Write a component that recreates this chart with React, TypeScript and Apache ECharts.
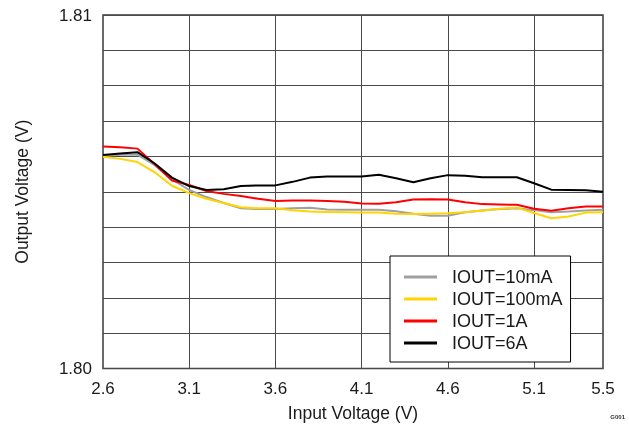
import { useEffect, useRef } from "react";
import * as echarts from "echarts";

const inputVoltage = [2.6, 2.7, 2.8, 2.9, 3.0, 3.1, 3.2, 3.3, 3.4, 3.5, 3.6, 3.7, 3.8, 3.9, 4.0, 4.1, 4.2, 4.3, 4.4, 4.5, 4.6, 4.7, 4.8, 4.9, 5.0, 5.1, 5.2, 5.3, 5.4, 5.5];

const iout10mA = [1.80601, 1.80605, 1.80605, 1.80575, 1.80535, 1.80505, 1.80485, 1.80468, 1.80453, 1.80451, 1.80451, 1.80453, 1.80455, 1.8045, 1.80449, 1.80449, 1.80449, 1.80445, 1.80438, 1.80432, 1.80432, 1.80442, 1.80447, 1.80451, 1.80453, 1.80448, 1.80442, 1.80444, 1.80447, 1.80449];
const iout100mA = [1.80599, 1.80593, 1.80584, 1.80555, 1.80517, 1.80496, 1.8048, 1.80468, 1.80456, 1.80453, 1.80453, 1.80448, 1.80444, 1.80443, 1.80442, 1.80441, 1.80441, 1.80438, 1.80437, 1.80438, 1.80439, 1.80442, 1.80447, 1.80452, 1.80455, 1.8044, 1.80425, 1.8043, 1.80441, 1.80442];
const iout1A = [1.80628, 1.80626, 1.80622, 1.80578, 1.80532, 1.80519, 1.80502, 1.80494, 1.80488, 1.8048, 1.80474, 1.80475, 1.80475, 1.80474, 1.80472, 1.80467, 1.80466, 1.8047, 1.80478, 1.80479, 1.80478, 1.8047, 1.80465, 1.80464, 1.80463, 1.80452, 1.80446, 1.80453, 1.80458, 1.80458];
const iout6A = [1.80604, 1.80608, 1.80612, 1.8058, 1.8054, 1.80516, 1.80505, 1.80507, 1.80516, 1.80518, 1.80518, 1.80528, 1.8054, 1.80543, 1.80543, 1.80543, 1.80548, 1.80538, 1.80527, 1.80538, 1.80547, 1.80545, 1.80541, 1.80541, 1.80541, 1.80524, 1.80506, 1.80505, 1.80504, 1.805];

const seriesNames = ["IOUT=10mA", "IOUT=100mA", "IOUT=1A", "IOUT=6A"];
const seriesValues = [iout10mA, iout100mA, iout1A, iout6A];
const seriesColors = ["#a0a0a0", "#ffd400", "#ff0000", "#000000"];

const xTickLabels = [2.6, 3.1, 3.6, 4.1, 4.6, 5.1, 5.5];
const xGridLines = [3.1, 3.6, 4.1, 4.6, 5.1];
const yMin = 1.8;
const yMax = 1.81;
const yStep = 0.001;

const FONT = "'Liberation Sans', Arial, sans-serif";
const TEXT = "#1a1a1a";
const GRID = "#4a4a4a";

export default function App() {
  const ref = useRef<HTMLDivElement>(null);
  useEffect(() => {
    if (!ref.current) return;
    const chart = echarts.init(ref.current, undefined, { renderer: "svg" });
    const series: any[] = seriesNames.map((name, i) => ({
      type: "line",
      name,
      data: inputVoltage.map((x, j) => [x, seriesValues[i][j]]),
      showSymbol: false,
      symbol: "none",
      lineStyle: { color: seriesColors[i], width: 2 },
      itemStyle: { color: seriesColors[i] },
      z: 3,
      ...(i === 0
        ? {
            markLine: {
              z: 1,
              silent: true,
              symbol: ["none", "none"],
              label: { show: false },
              lineStyle: { color: GRID, width: 1, type: "solid" },
              emphasis: { disabled: true },
              data: xGridLines.map((v) => ({ xAxis: v })),
            },
          }
        : {}),
    }));
    chart.setOption({
      animation: false,
      textStyle: { fontFamily: FONT },
      grid: {
        left: 103,
        top: 15,
        width: 500,
        height: 353.5,
        show: true,
        borderColor: "#3a3a3a",
        borderWidth: 1.5,
        backgroundColor: "transparent",
      },
      xAxis: {
        type: "value",
        min: 2.6,
        max: 5.5,
        axisLine: { show: false },
        axisTick: { show: false },
        splitLine: { show: false },
        axisLabel: {
          customValues: xTickLabels,
          formatter: (v: number) => v.toFixed(1),
          fontSize: 17,
          color: TEXT,
          margin: 11,
          fontFamily: FONT,
        },
        name: "Input Voltage (V)",
        nameLocation: "middle",
        nameGap: 35,
        nameTextStyle: { fontSize: 17.5, color: TEXT, fontFamily: FONT },
      },
      yAxis: {
        type: "value",
        min: yMin,
        max: yMax,
        interval: yStep,
        axisLine: { show: false },
        axisTick: { show: false },
        splitLine: { show: true, lineStyle: { color: GRID, width: 1 } },
        axisLabel: {
          formatter: (v: number) =>
            Math.abs(v - yMin) < 1e-7 ? yMin.toFixed(2) : Math.abs(v - yMax) < 1e-7 ? yMax.toFixed(2) : "",
          fontSize: 17,
          color: TEXT,
          margin: 11,
          fontFamily: FONT,
        },
        name: "Output Voltage (V)",
        nameLocation: "middle",
        nameGap: 72,
        nameTextStyle: { fontSize: 17.5, color: TEXT, fontFamily: FONT },
      },
      legend: {
        show: true,
        orient: "vertical",
        left: 390,
        top: 256,
        data: seriesNames,
        icon: "rect",
        itemWidth: 33,
        itemHeight: 3,
        itemGap: 0,
        padding: [10, 8, 8, 14],
        borderColor: "#000",
        borderWidth: 1,
        backgroundColor: "#fff",
        selectedMode: false,
        textStyle: { fontSize: 18, lineHeight: 22, color: TEXT, padding: [0, 0, 0, 10], fontFamily: FONT },
      },
      graphic: [
        {
          type: "text",
          right: 4,
          bottom: 7,
          style: { text: "G001", fontSize: 6, fill: "#333", fontFamily: FONT, fontWeight: "bold" },
        },
      ],
      series,
    });
    return () => chart.dispose();
  }, []);
  return <div ref={ref} style={{ position: "fixed", left: 0, top: 0, width: 629, height: 427 }} />;
}
